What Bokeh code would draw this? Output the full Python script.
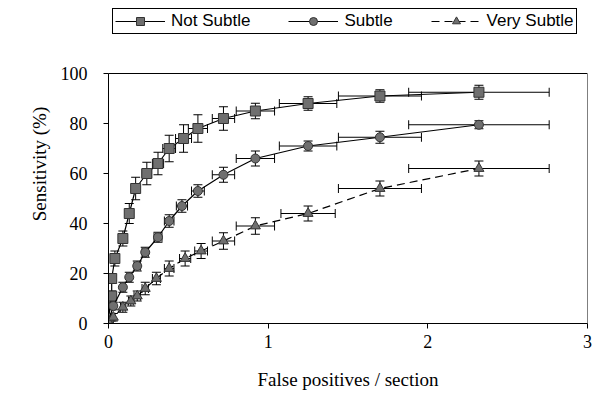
from bokeh.plotting import figure
from bokeh.models import (Whisker, TeeHead, ColumnDataSource, Legend, LegendItem,
                          FixedTicker, Range1d, BoxAnnotation)
from bokeh.embed import file_html
from bokeh.resources import INLINE

# ---- data ----
ns_x = [0.0, 0.02, 0.02, 0.04, 0.09, 0.13, 0.17, 0.24, 0.31, 0.38, 0.47, 0.56, 0.72, 0.92, 1.25, 1.70, 2.32]
ns_y = [2, 11, 18, 26, 34, 44, 54, 60, 64, 70, 74, 78, 82, 85, 88, 91, 92.5]
ns_xerr = [0.01, 0.01, 0.01, 0.015, 0.02, 0.02, 0.025, 0.03, 0.035, 0.04, 0.05, 0.06, 0.07, 0.12, 0.18, 0.26, 0.44]
ns_yerr = [1, 2, 2, 3, 3, 4, 4.5, 4.5, 4.5, 5.3, 5.5, 5.5, 4.7, 3.1, 2.7, 2.5, 2.8]

s_x = [0.0, 0.03, 0.09, 0.13, 0.18, 0.23, 0.31, 0.38, 0.46, 0.56, 0.72, 0.92, 1.25, 1.70, 2.32]
s_y = [1, 7, 14.5, 18.5, 23, 28.5, 34.5, 41, 47, 53, 59.5, 66, 71, 74.5, 79.5]
s_xerr = [0.01, 0.01, 0.015, 0.015, 0.02, 0.02, 0.025, 0.03, 0.035, 0.04, 0.07, 0.12, 0.18, 0.26, 0.44]
s_yerr = [1, 1.5, 2, 2, 2, 2, 2, 2.5, 2.5, 2.5, 3, 3, 2, 2.4, 1.6]

vs_x = [0.0, 0.03, 0.09, 0.14, 0.18, 0.23, 0.30, 0.38, 0.48, 0.58, 0.72, 0.92, 1.25, 1.70, 2.32]
vs_y = [0.5, 2.5, 6.5, 9, 11, 14, 18, 22, 26, 29, 33, 39, 44, 54, 62]
vs_xerr = [0.01, 0.01, 0.015, 0.015, 0.02, 0.02, 0.025, 0.03, 0.035, 0.04, 0.07, 0.12, 0.17, 0.26, 0.44]
vs_yerr = [1, 1.5, 2, 2, 2, 2.5, 2.5, 3, 3, 3, 3.3, 3.3, 3, 3, 3]

series_names = ["Not Subtle", "Subtle", "Very Subtle"]
x_ticks = [0, 1, 2, 3]
y_ticks = [0, 20, 40, 60, 80, 100]
x_max = 3
y_max = 100

# frame extends above y=100 to leave room for the legend (2.5 px per unit)
p = figure(width=597, height=400, output_backend="svg", toolbar_location=None,
           x_range=Range1d(0, x_max), y_range=Range1d(0, 127.6),
           min_border_left=108, min_border_right=10, min_border_top=4, min_border_bottom=77)
p.background_fill_color = "white"
p.border_fill_color = "white"
p.outline_line_color = None
p.xgrid.visible = False
p.ygrid.visible = False

# plot-area box (0..3 x 0..100)
p.add_layout(BoxAnnotation(left=0, right=x_max, bottom=0, top=y_max,
                           fill_alpha=0, line_color="black", line_width=1, line_alpha=1))


def make_src(x, y, xe, ye):
    return ColumnDataSource(dict(
        x=x, y=y,
        xlo=[a - b for a, b in zip(x, xe)], xhi=[a + b for a, b in zip(x, xe)],
        ylo=[a - b for a, b in zip(y, ye)], yhi=[a + b for a, b in zip(y, ye)],
    ))


specs = [
    (ns_x, ns_y, ns_xerr, ns_yerr, "square", 10, "solid"),
    (s_x, s_y, s_xerr, s_yerr, "circle", 9, "solid"),
    (vs_x, vs_y, vs_xerr, vs_yerr, "triangle", 10, "8 5"),
]

items = []
for name, (x, y, xe, ye, marker, size, dash) in zip(series_names, specs):
    src = make_src(x, y, xe, ye)
    for dim, base, lo, hi in (("width", "y", "xlo", "xhi"), ("height", "x", "ylo", "yhi")):
        w = Whisker(source=src, dimension=dim, base=base, lower=lo, upper=hi,
                    line_color="black", line_width=1,
                    upper_head=TeeHead(size=9, line_color="black", line_width=1),
                    lower_head=TeeHead(size=9, line_color="black", line_width=1))
        p.add_layout(w)
    ln = p.line("x", "y", source=src, line_color="black", line_width=1.2, line_dash=dash)
    pts = p.scatter("x", "y", source=src, marker=marker, size=size,
                    fill_color="#6f6f6f", line_color="#333333", line_width=1)
    items.append(LegendItem(label=name, renderers=[ln, pts]))

legend = Legend(items=items, orientation="horizontal", location="top_left",
                border_line_color="black", border_line_width=1, border_line_alpha=1,
                background_fill_color="white", background_fill_alpha=1,
                glyph_width=50, glyph_height=20, label_standoff=6, spacing=38,
                padding=2, margin=4,
                label_text_font="Liberation Sans", label_text_font_size="17px",
                label_text_color="black")
p.add_layout(legend)

for ax in (p.xaxis[0], p.yaxis[0]):
    ax.major_label_text_font = "Liberation Serif"
    ax.major_label_text_font_size = "18px"
    ax.major_label_text_color = "black"
    ax.axis_label_text_font = "Liberation Serif"
    ax.axis_label_text_font_size = "19px"
    ax.axis_label_text_font_style = "normal"
    ax.axis_label_text_color = "black"
    ax.axis_line_color = "black"
    ax.major_tick_line_color = "black"
    ax.major_tick_out = 5
    ax.major_tick_in = 0
    ax.minor_tick_line_color = None

p.xaxis[0].ticker = FixedTicker(ticks=x_ticks)
p.yaxis[0].ticker = FixedTicker(ticks=y_ticks)
p.yaxis[0].bounds = (0, y_max)
p.xaxis[0].axis_label = "False positives / section"
p.yaxis[0].axis_label = "Sensitivity (%)"
p.xaxis[0].major_label_standoff = 6
p.yaxis[0].major_label_standoff = 16
p.xaxis[0].axis_label_standoff = 18
p.yaxis[0].axis_label_standoff = 8

open("out.html", "w").write(file_html(p, INLINE))
